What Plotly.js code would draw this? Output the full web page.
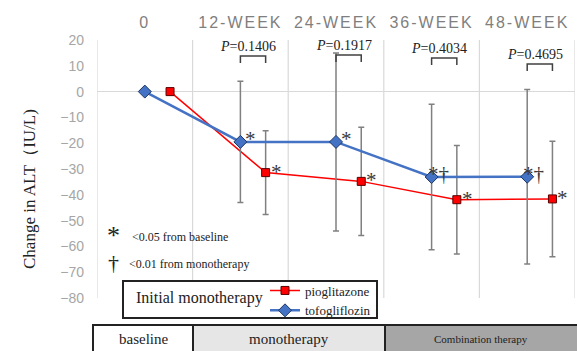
<!DOCTYPE html>
<html>
<head>
<meta charset="utf-8">
<script src="https://cdn.plot.ly/plotly-3.0.1.min.js"></script>
<style>
  html, body { margin: 0; padding: 0; background: #fff; }
  #chart { width: 577px; height: 351px; }
  .xtick text { letter-spacing: 2px; }
</style>
</head>
<body>
<div id="chart"></div>
<script>
// Visit labels along the top axis
const weekLabels = ['0', '12-WEEK', '24-WEEK', '36-WEEK', '48-WEEK'];
const weekPos = [0, 1, 2, 3, 4];

// Mean change in ALT (IU/L) and SD, initial pioglitazone group
const pioMean = [0, -31.4, -34.8, -41.9, -41.6];
const pioSD = [0, 16.2, 21.0, 21.0, 22.4];

// Mean change in ALT (IU/L) and SD, initial tofogliflozin group
const tofoMean = [0, -19.5, -19.5, -33.1, -33.0];
const tofoSD = [0, 23.5, 34.5, 28.2, 33.8];

// Significance marks next to each point
const pioSig = ['', '*', '*', '*', '*'];
const tofoSig = ['', '*', '*', '*\u2020', '*\u2020'];

// Between-group P values and the height of their brackets
const pValues = ['', '0.1406', '0.1917', '0.4034', '0.4695'];
const bracketY = [null, 13.8, 14.2, 13.0, 10.7];

// Treatment phases shown in the band under the plot
const phases = ['baseline', 'monotherapy', 'Combination therapy'];

// Horizontal offset of the pioglitazone series within a visit
const pioShift = 0.264;

const SERIF = 'Liberation Serif, Times New Roman, serif';
const SANS = 'Liberation Sans, Arial, sans-serif';

// pixel -> paper helpers for the plot area (97..575 x 40..298)
const L = 97, R = 575, T = 40, B = 298;
const px = v => (v - L) / (R - L);
const py = v => (B - v) / (B - T);

const pioX = weekPos.map(v => v + pioShift);

const traces = [
  {
    name: 'pioglitazone',
    x: pioX, y: pioMean,
    mode: 'lines+markers',
    line: { color: '#ff0000', width: 1.5 },
    marker: { symbol: 'square', size: 8, color: '#ff0000', line: { color: '#5a0000', width: 1 } },
    error_y: { type: 'data', array: pioSD, visible: true, color: '#808080', thickness: 1.5, width: 3 }
  },
  {
    name: 'tofogliflozin',
    x: weekPos, y: tofoMean,
    mode: 'lines+markers',
    line: { color: '#4472c4', width: 2.5 },
    marker: { symbol: 'diamond', size: 10, color: '#4472c4', line: { color: '#1f3864', width: 1 } },
    error_y: { type: 'data', array: tofoSD, visible: true, color: '#808080', thickness: 1.5, width: 3 }
  }
];

const shapes = [];
const annotations = [];

// vertical separators between visits
for (let i = 0; i <= weekPos.length; i++) {
  shapes.push({
    type: 'line', layer: 'below', xref: 'x', yref: 'paper',
    x0: i - 0.5, x1: i - 0.5, y0: 0, y1: 1,
    line: { color: '#d9d9d9', width: 1.2 }
  });
}

// P-value brackets between the two groups
weekPos.forEach((w, i) => {
  if (!pValues[i]) return;
  const top = bracketY[i];
  const x0 = w, x1 = w + pioShift;
  shapes.push({
    type: 'path', xref: 'x', yref: 'y',
    path: `M ${x0},${top - 2.7} L ${x0},${top} L ${x1},${top} L ${x1},${top - 2.7}`,
    line: { color: '#404040', width: 1.5 }
  });
  annotations.push({
    xref: 'x', yref: 'y', x: (x0 + x1) / 2, y: top,
    xanchor: 'center', yanchor: 'bottom', xshift: -5, yshift: 0,
    text: '<i>P</i>=' + pValues[i], showarrow: false,
    font: { family: SERIF, size: 14, color: '#222' }
  });
});

// significance marks
weekPos.forEach((w, i) => {
  if (tofoSig[i]) {
    annotations.push({
      xref: 'x', yref: 'y', x: w, y: tofoMean[i],
      xanchor: 'left', yanchor: 'middle',
      xshift: tofoSig[i].length > 1 ? -6 : 3, yshift: 3,
      text: tofoSig[i], showarrow: false,
      font: { family: SERIF, size: 21, color: '#3a3a3a' }
    });
  }
  if (pioSig[i]) {
    annotations.push({
      xref: 'x', yref: 'y', x: pioX[i], y: pioMean[i],
      xanchor: 'left', yanchor: 'middle', xshift: 3, yshift: 1,
      text: pioSig[i], showarrow: false,
      font: { family: SERIF, size: 21, color: '#3a3a3a' }
    });
  }
});

// footnote keys
annotations.push(
  { xref: 'paper', yref: 'paper', x: px(113), y: py(235), xanchor: 'center', yanchor: 'middle',
    text: '*', showarrow: false, font: { family: SERIF, size: 26, color: '#222' } },
  { xref: 'paper', yref: 'paper', x: px(130), y: py(237), xanchor: 'left', yanchor: 'middle',
    text: '&lt;0.05 from baseline', showarrow: false, font: { family: SERIF, size: 12, color: '#222' } },
  { xref: 'paper', yref: 'paper', x: px(113), y: py(262), xanchor: 'center', yanchor: 'middle',
    text: '\u2020', showarrow: false, font: { family: SERIF, size: 22, color: '#222' } },
  { xref: 'paper', yref: 'paper', x: px(127), y: py(264), xanchor: 'left', yanchor: 'middle',
    text: '&lt;0.01 from monotherapy', showarrow: false, font: { family: SERIF, size: 12, color: '#222' } }
);

// y-axis title
annotations.push({
  xref: 'paper', yref: 'paper', x: px(29), y: py(189), xanchor: 'center', yanchor: 'middle',
  textangle: -90, text: 'Change in ALT\uFF08IU/L)', showarrow: false,
  font: { family: SERIF, size: 17, color: '#222' }
});

// legend frame and its heading
shapes.push({
  type: 'rect', xref: 'paper', yref: 'paper', layer: 'above',
  x0: px(123), x1: px(377), y0: py(318), y1: py(281),
  fillcolor: '#ffffff', line: { color: '#222', width: 2 }
});
annotations.push({
  xref: 'paper', yref: 'paper', x: px(134), y: py(298), xanchor: 'left', yanchor: 'middle',
  text: 'Initial monotherapy', showarrow: false, font: { family: SERIF, size: 16, color: '#222' }
});

// treatment phase band
const phaseEdges = [93, 193, 385, 580];
const phaseFill = ['#ffffff', '#e6e6e6', '#a6a6a6'];
const phaseFont = [15, 15, 11];
phases.forEach((p, i) => {
  shapes.push({
    type: 'rect', xref: 'paper', yref: 'paper', layer: 'above',
    x0: px(phaseEdges[i]), x1: px(phaseEdges[i + 1]), y0: py(360), y1: py(325),
    fillcolor: phaseFill[i], line: { color: '#222', width: 2 }
  });
  annotations.push({
    xref: 'paper', yref: 'paper', x: px((phaseEdges[i] + Math.min(phaseEdges[i + 1], 577)) / 2), y: py(339),
    xanchor: 'center', yanchor: 'middle', text: p, showarrow: false,
    font: { family: SERIF, size: phaseFont[i], color: '#222' }
  });
});

const layout = {
  width: 577, height: 351,
  margin: { l: L, r: 577 - R, t: T, b: 351 - B },
  paper_bgcolor: '#ffffff', plot_bgcolor: '#ffffff',
  showlegend: true,
  legend: {
    x: px(265), y: py(275.5), xanchor: 'left', yanchor: 'top',
    bgcolor: 'rgba(0,0,0,0)', borderwidth: 0,
    font: { family: SERIF, size: 13, color: '#222' },
    itemwidth: 30, tracegroupgap: 0
  },
  xaxis: {
    side: 'top', range: [-0.5, 4.5], fixedrange: true,
    tickmode: 'array', tickvals: weekPos, ticktext: weekLabels,
    showgrid: false, zeroline: false, showline: false, ticks: '',
    ticklabelstandoff: 8,
    tickfont: { family: SANS, size: 16, color: '#7f7f7f' }
  },
  yaxis: {
    range: [-80, 20], dtick: 10, tick0: 0, fixedrange: true,
    showgrid: false, zeroline: true, zerolinecolor: '#d9d9d9', zerolinewidth: 1.5,
    showline: false, ticks: '', ticklabelstandoff: 12,
    tickfont: { family: SANS, size: 14, color: '#a6a6a6' }
  },
  shapes: shapes,
  annotations: annotations
};

Plotly.newPlot('chart', traces, layout, { displayModeBar: false, staticPlot: true });
</script>
</body>
</html>
